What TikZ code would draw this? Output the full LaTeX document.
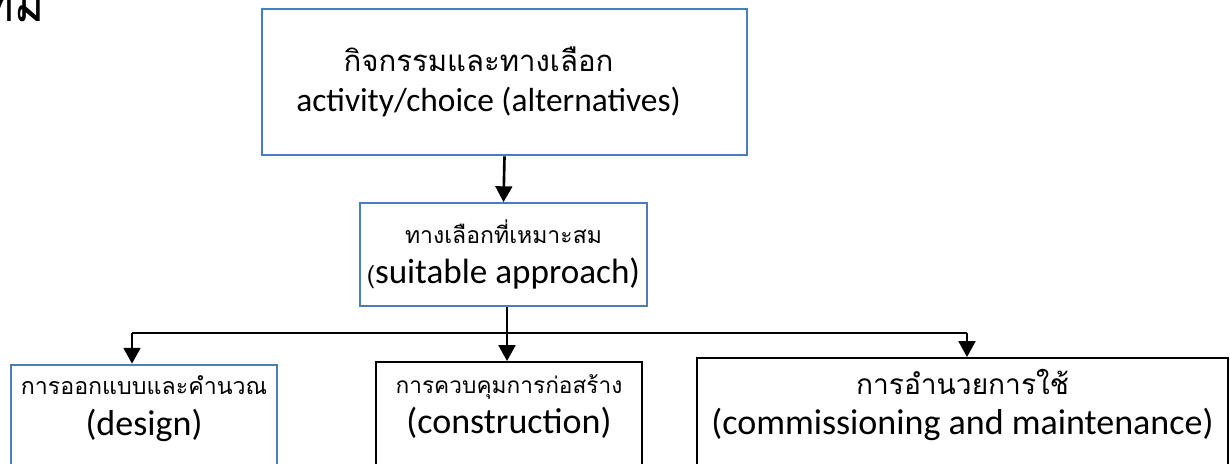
\documentclass[tikz,border=0pt]{standalone}
\usepackage{fontspec}
\usepackage{graphicx}
\setmainfont{Carlito}
\newfontfamily\thaifont[Script=Thai]{Loma}
\usetikzlibrary{arrows.meta}
\definecolor{boxblue}{HTML}{4A7EBB}
\newcommand{\thline}[2]{{\thaifont\fontsize{#1}{#1}\selectfont #2}}
\tikzset{
	bluebox/.style={draw=boxblue, line width=1.5pt, align=center, inner sep=0pt, font=\fontsize{19}{23}\selectfont},
	blackbox/.style={draw=black, line width=1.1pt, align=center, inner sep=0pt, font=\fontsize{19}{23}\selectfont},
	lowbox/.style={text depth=11.5pt, font=\fontsize{20.5}{23}\selectfont},
	arr/.style={-{Triangle[width=9.5pt,length=9pt]}, line width=1.5pt}
}

\begin{document}
\begin{tikzpicture}[x=0.02cm, y=-0.02cm]
			%%%%% START %%%%%
			\useasboundingbox (0, 0) rectangle (1230, 463);
			\clip (0, 0) rectangle (1230, 463);
			
			\node[anchor=base east, inner sep=0pt, font=\thaifont\fontsize{26}{26}\selectfont] (head) at (45, 21) {\scalebox{1}[1.6]{หม}};
			
			\node[bluebox, minimum width=9.7cm, minimum height=2.92cm] (choice) at (504.5, 82)
				{\thline{16.7}{กิจกรรมและทางเลือก}\hspace*{1.04cm}\\ activity/choice (alternatives)\hspace*{0.64cm}};
			\node[bluebox, line width=1pt, minimum width=5.74cm, minimum height=2.06cm, font=\fontsize{20}{23}\selectfont] (suit) at (503.5, 254.5)
				{\thline{13.1}{ทางเลือกที่เหมาะสม}\\ \thline{14}{(}suitable approach)};
			
			\node[bluebox, lowbox, minimum width=5.32cm, minimum height=2.02cm] (design) at (144, 415.5)
				{\thline{13.2}{การออกแบบและคำนวณ}\\ (design)};
			\node[blackbox, lowbox, minimum width=5.32cm, minimum height=2.08cm] (build) at (509, 414)
				{\thline{12.9}{การควบคุมการก่อสร้าง}\\ (construction)};
			\node[blackbox, lowbox, minimum width=10.62cm, minimum height=2.16cm] (use) at (962.5, 412)
				{\thline{16}{การอำนวยการใช้}\\ (commissioning and maintenance)};
			
			\draw[arr] (choice.south) -- (suit.north);
			
			\coordinate (sl) at (132, 333);
			\coordinate (sm) at (507, 333);
			\coordinate (sr) at (967, 333);
			\draw[line width=0.7pt] (sl) -- (sr);
			\draw[arr] (sm |- suit.south) -- (sm |- build.north);
			\draw[arr] (sl) -- (sl |- design.north);
			\draw[arr] (sr) -- (sr |- use.north);
			
			%%%%% END %%%%%
\end{tikzpicture}
\end{document}
